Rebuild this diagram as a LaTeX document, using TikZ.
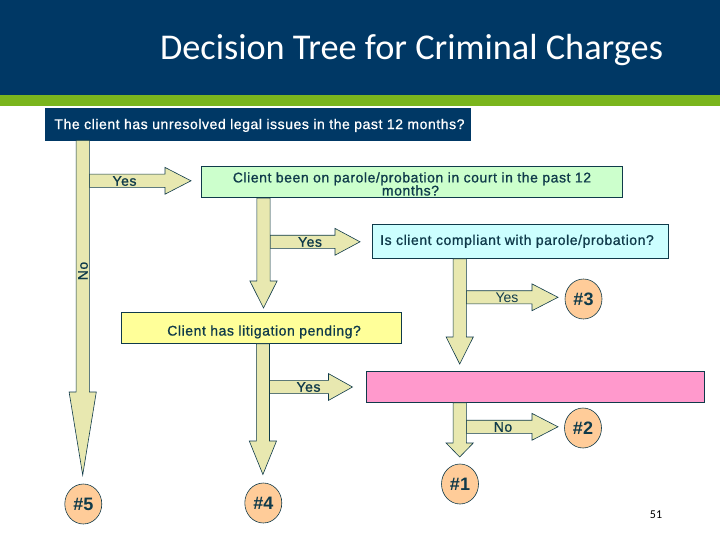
\documentclass[tikz,border=0pt]{standalone}
\usepackage{fontspec}
\setmainfont{Liberation Sans}
\newfontfamily\titlefont{Carlito}
\newfontfamily\boxfont[FakeBold=1,LetterSpace=4]{Liberation Sans}
\usetikzlibrary{calc,shapes.geometric}
\definecolor{navy}{HTML}{003865}
\definecolor{barg}{HTML}{7AB51D}
\definecolor{ink}{HTML}{0F3A4A}
\definecolor{arrowfill}{HTML}{E8E8B0}
\definecolor{mintbox}{HTML}{CCFFCC}
\definecolor{cyanbox}{HTML}{CCFFFF}
\definecolor{yellowbox}{HTML}{FFFF99}
\definecolor{pinkbox}{HTML}{FF99CC}
\definecolor{peach}{HTML}{FFCC99}
\tikzset{
  qbox/.style={draw=ink,line width=0.6pt,rectangle,inner sep=0pt,text=ink,font=\boxfont\fontsize{14}{13}\selectfont,align=center},
  outcome/.style={draw=ink,line width=0.6pt,fill=peach,ellipse,inner sep=0pt,minimum width=37pt,minimum height=40pt,text=ink,font=\fontsize{18}{20}\selectfont\bfseries},
  blockarrow/.style={draw=ink,line width=0.6pt,fill=arrowfill,line join=miter},
  arrowlabel/.style={text=ink,inner sep=0pt,font=\boxfont\fontsize{14}{16}\selectfont}
}
% vertical block arrow: start, tip, head length
\newcommand{\vblock}[3]{\draw[blockarrow] let \p1=(#1), \p2=(#2) in
  (\x1-6.6pt,\y1) -- (\x1-6.6pt,\y2+#3pt) -- (\x1-13.6pt,\y2+#3pt) -- (\x2,\y2)
  -- (\x1+13.6pt,\y2+#3pt) -- (\x1+6.6pt,\y2+#3pt) -- (\x1+6.6pt,\y1) -- cycle;}
% horizontal block arrow: start, tip, head length
\newcommand{\hblock}[3]{\draw[blockarrow] let \p1=(#1), \p2=(#2) in
  (\x1,\y1+6.6pt) -- (\x2-#3pt,\y1+6.6pt) -- (\x2-#3pt,\y1+13.4pt) -- (\x2,\y2)
  -- (\x2-#3pt,\y1-13.4pt) -- (\x2-#3pt,\y1-6.6pt) -- (\x1,\y1-6.6pt) -- cycle;}
\begin{document}
\begin{tikzpicture}[x=1pt,y=-1pt]
\useasboundingbox (0,0) rectangle (720,540);
\fill[white] (0,0) rectangle (720,540);
\fill[navy] (0,0) rectangle (720,95);
\fill[barg] (0,95) rectangle (720,106);
\node[text=white,inner sep=0pt,font=\titlefont\fontsize{36.3}{40}\selectfont] (title) at (411.5,50) {Decision Tree for Criminal Charges};

\node[qbox,draw=navy,fill=navy,text=white,minimum width=425pt,minimum height=32pt] (q1) at (257.5,124) {\hspace*{4pt}\rule{0pt}{13pt}The client has unresolved legal issues in the past 12 months?};
\node[qbox,fill=mintbox,minimum width=421pt,minimum height=31.5pt] (q2) at (412,182) {\rule{0pt}{14pt}Client been on parole/probation in court in the past 12\\[-1pt]months?\hspace*{3pt}};
\node[qbox,fill=cyanbox,minimum width=296pt,minimum height=34.5pt] (q3) at (520.5,241.3) {Is client compliant with parole/probation?\hspace*{7pt}};
\node[qbox,fill=yellowbox,minimum width=280.5pt,minimum height=31pt] (q4) at (261.3,328) {\hspace*{5.5pt}\rule{0pt}{18pt}Client has litigation pending?};
\node[qbox,fill=pinkbox,minimum width=338pt,minimum height=31pt] (q5) at (535.5,387) {};

\node[outcome] (o5) at (83.3,504) {\#5};
\node[outcome] (o4) at (263.3,503) {\#4};
\node[outcome] (o3) at (583.5,299) {\#3};
\node[outcome] (o2) at (583,428) {\#2};
\node[outcome] (o1) at (460,484) {\#1};

\coordinate (tipa) at (82.7,475);
\coordinate (tipb) at (263.5,308);
\coordinate (tipc) at (459.7,364);
\coordinate (tipd) at (262.9,474.5);
\coordinate (tipe) at (459.7,457);
\coordinate (ja) at (89.3,180.8);
\coordinate (jb) at (270.1,241.8);
\coordinate (jc) at (466.3,297.3);
\coordinate (jd) at (269.5,387);
\coordinate (je) at (466.3,426.8);
\coordinate (ra) at (191,180.8);
\coordinate (rb) at (360,241.8);
\coordinate (rc) at (558,297.3);
\coordinate (rd) at (352.5,387);
\coordinate (re) at (558,426.8);

\hblock{ja}{ra}{26}
\hblock{jb}{rb}{25}
\hblock{jc}{rc}{26}
\hblock{jd}{rd}{24}
\hblock{je}{re}{26}
\vblock{q1.south -| tipa}{tipa}{83}
\vblock{q2.south -| tipb}{tipb}{27}
\vblock{q3.south -| tipc}{tipc}{27}
\vblock{q4.south -| tipd}{tipd}{33.5}
\vblock{q5.south -| tipe}{tipe}{14}

\node[arrowlabel] (ly1) at (124.5,181) {Yes};
\node[arrowlabel] (ly2) at (310,242) {Yes};
\node[arrowlabel,font=\fontsize{14}{16}\selectfont] (ly3) at (507,298) {Yes};
\node[arrowlabel] (ly4) at (308.5,387) {Yes};
\node[arrowlabel] (ln5) at (503,427) {No};
\node[arrowlabel,rotate=90] (ln1) at (83,271) {No};
\node[text=black,inner sep=0pt,font=\titlefont\fontsize{12}{14}\selectfont] (page) at (656,515) {51};
\end{tikzpicture}
\end{document}
